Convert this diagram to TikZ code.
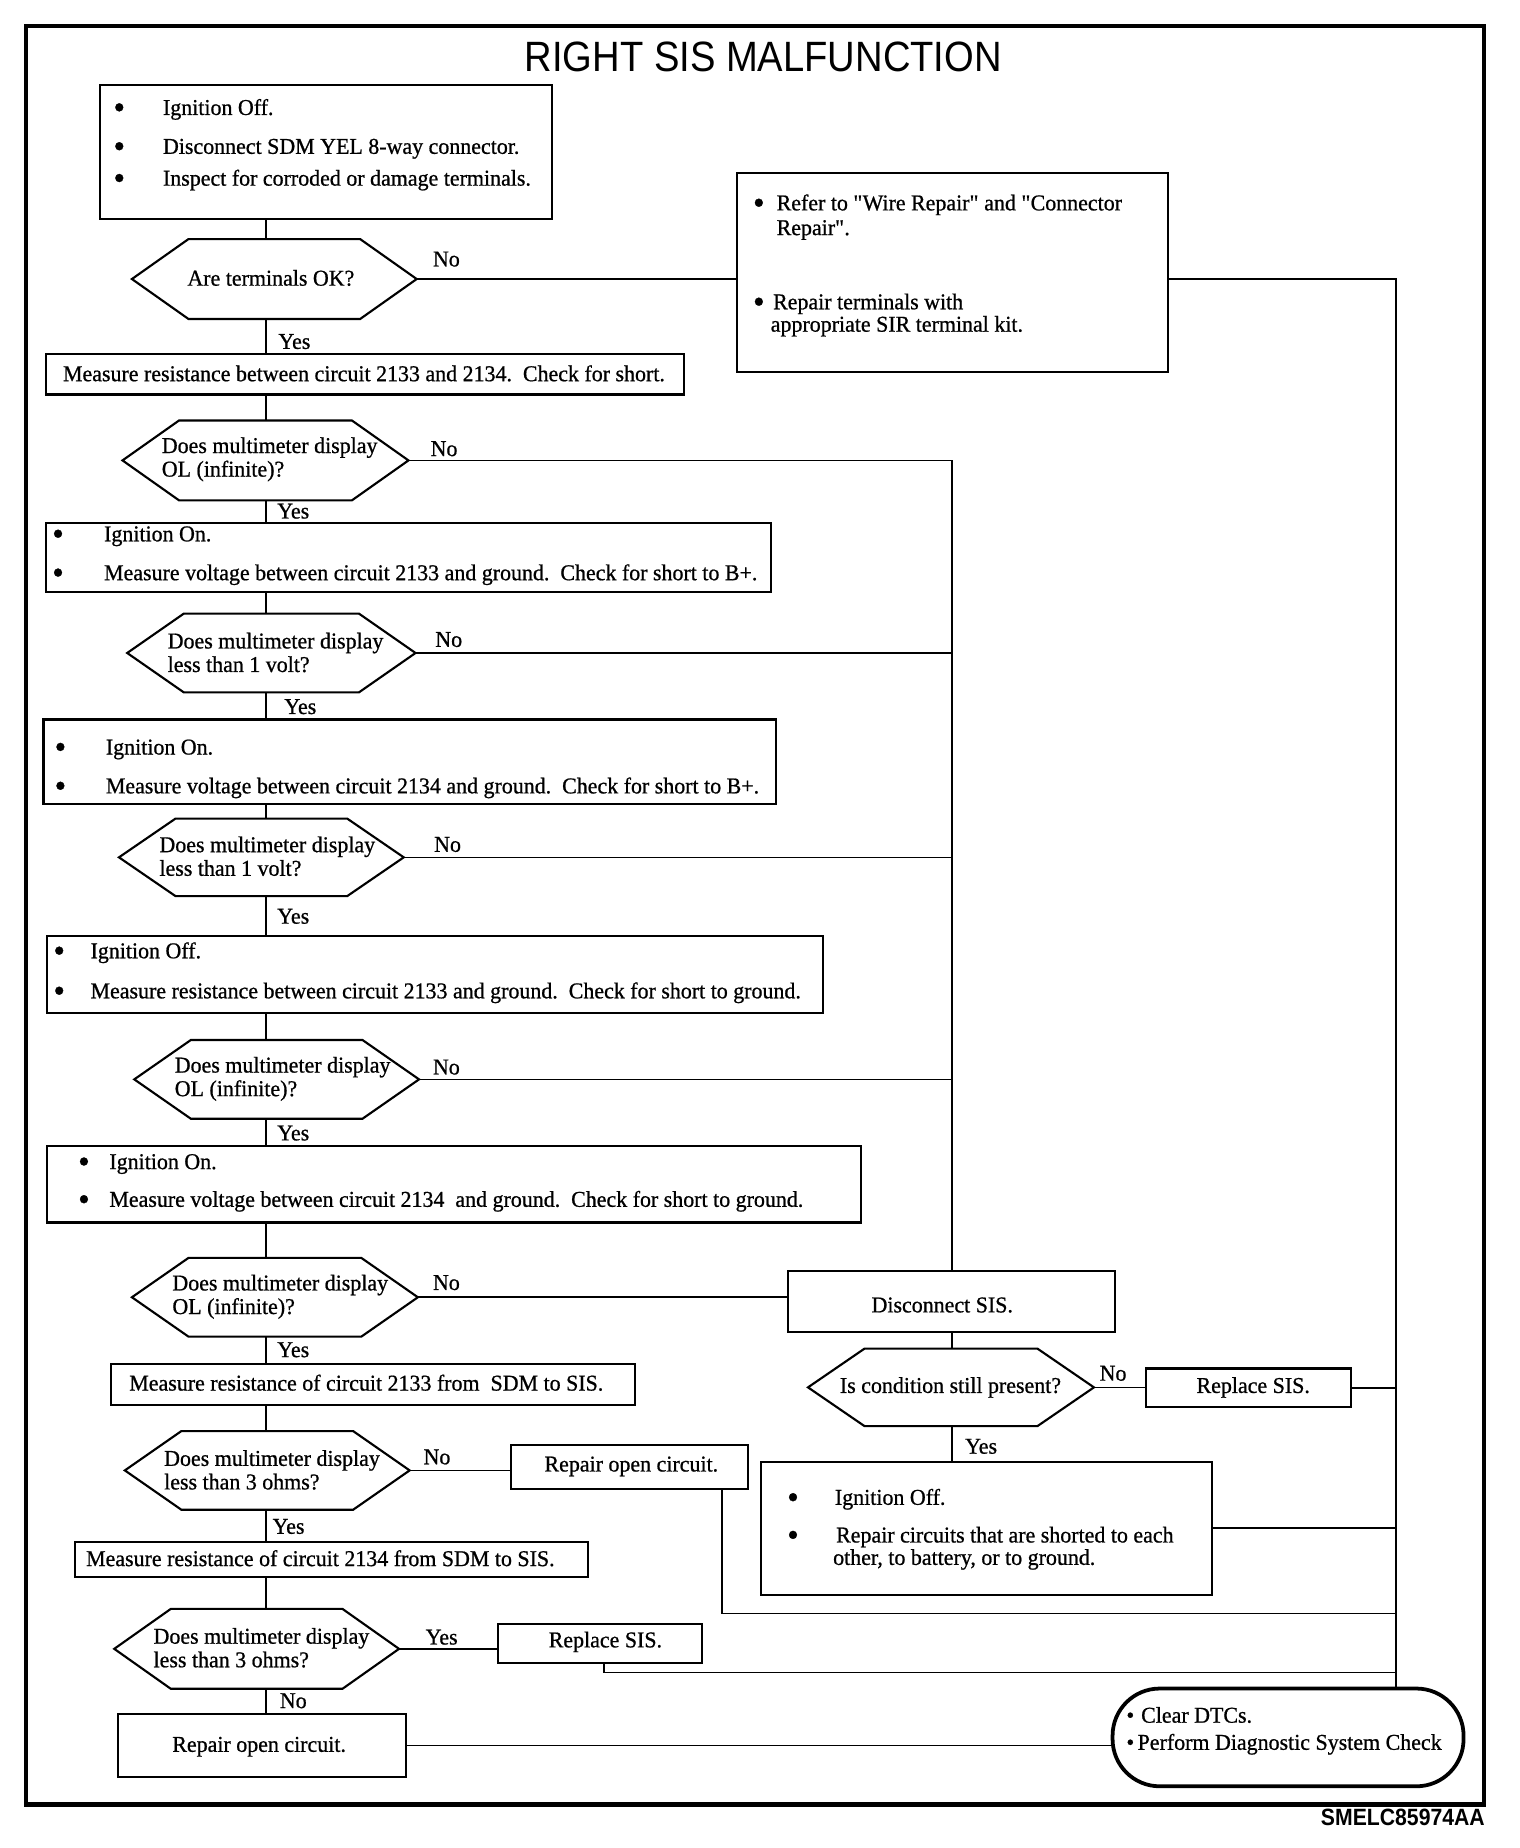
\documentclass[tikz,border=0pt]{standalone}
\usepackage{fontspec}
\setmainfont{Liberation Serif}[FakeStretch=0.97,FakeBold=0.8]
\newfontfamily\titlefont{Liberation Sans}[FakeStretch=0.9]
\usetikzlibrary{calc}
\newcommand\mkbox[6][]{%
  \pgfmathsetmacro\mybw{(#5-#3)*0.5}\pgfmathsetmacro\mybh{(#6-#4)*0.5}%
  \node[boxst,#1,minimum width=\mybw pt,minimum height=\mybh pt,anchor=north west] (#2) at (#3,#4) {};}
\newcommand\mkhex[5]{%
  \pgfmathsetmacro\mybw{(#4-#2)*0.5}\pgfmathsetmacro\mybh{(#5-#3)*0.5}%
  \node[inner sep=0pt,minimum width=\mybw pt,minimum height=\mybh pt,anchor=north west] (#1) at (#2,#3) {};
  \draw[hexst] (#1.west) -- ([xshift=24pt]#1.north west) -- ([xshift=-24pt]#1.north east) -- (#1.east)
     -- ([xshift=-24pt]#1.south east) -- ([xshift=24pt]#1.south west) -- cycle;}
\newcommand\bigbul{\raisebox{-0.35ex}{\scalebox{1.5}{\textbullet}}}
\newcommand\bgap[1]{\makebox[#1][l]{\bigbul}}
\newcommand\qd{\textquotedbl}
\begin{document}
\begin{tikzpicture}[x=0.5pt,y=-0.5pt,
  boxst/.style={draw,line width=0.9pt,inner sep=0pt},
  hexst/.style={draw,line width=0.9pt,line join=miter},
  conn/.style={line width=0.7pt},
  txt/.style={inner sep=0pt,font=\fontsize{9.6}{10}\selectfont},
  tl/.style={txt,anchor=mid west},
  ht/.style={txt,anchor=west,align=left},
  lbl/.style={txt}]
\useasboundingbox (0,0) rectangle (1290,1569);
\draw[line width=2pt] (22,22) rectangle (1260,1532);
\node[inner sep=0pt,font=\titlefont\fontsize{18}{20}\selectfont] (title) at (648,48) {RIGHT SIS MALFUNCTION};
\coordinate (spine) at (226,0);
\coordinate (busM) at (808,0);
\coordinate (busR) at (1185,0);
\coordinate (c1) at (613,1370);
\coordinate (c2) at (513,1420);
% box 1
\mkbox{b1}{84}{71}{468}{185}
\node[tl] (b1a) at (96,93) {\bgap{21pt}Ignition Off.};
\node[tl] (b1b) at (96,126) {\bgap{21pt}Disconnect SDM YEL 8-way connector.};
\node[tl] (b1c) at (96,153) {\bgap{21pt}Inspect for corroded or damage terminals.};
% hex 1
\mkhex{h1}{112}{203}{353}{270}
\node[txt] (h1t) at (230,236) {Are terminals OK?};
\node[lbl] (n1) at (379,220) {No};
\mkbox{r1}{625}{146}{991}{315}
\node[tl] (r1a) at (639,174) {\bgap{10pt}Refer to \qd Wire Repair\qd\ and \qd Connector};
\node[tl] (r1b) at (659,195) {Repair\qd.};
\node[tl] (r1c) at (639,258) {\bgap{8.5pt}Repair terminals with};
\node[tl] (r1d) at (654,277) {appropriate SIR terminal kit.};
\node[lbl] (y1) at (250,290) {Yes};
% box 2
\mkbox{b2}{38}{300}{580}{334}
\node[txt] (b2t) at (309,317) {Measure resistance between circuit 2133 and 2134.\ \ Check for short.};
% hex 2
\mkhex{h2}{104}{357}{346}{424}
\node[ht] (h2t) at (137,390) {Does multimeter display\\OL (infinite)?};
\node[lbl] (n2) at (377,381) {No};
\node[lbl] (y2) at (249,434) {Yes};
% box 3
\mkbox{b3}{38}{443}{654}{502}
\node[tl] (b3a) at (44,455) {\bgap{22pt}Ignition On.};
\node[tl] (b3b) at (44,488) {\bgap{22pt}Measure voltage between circuit 2133 and ground.\ \ Check for short to B+.};
% hex 3
\mkhex{h3}{108}{521}{352}{587}
\node[ht] (h3t) at (142,554) {Does multimeter display\\less than 1 volt?};
\node[lbl] (n3) at (381,543) {No};
\node[lbl] (y3) at (255,600) {Yes};
% box 4
\mkbox{b4}{36}{610}{658}{682}
\node[tl] (b4a) at (46,636) {\bgap{21.75pt}Ignition On.};
\node[tl] (b4b) at (46,669) {\bgap{21.75pt}Measure voltage between circuit 2134 and ground.\ \ Check for short to B+.};
% hex 4
\mkhex{h4}{101}{695}{342}{760}
\node[ht] (h4t) at (135,727) {Does multimeter display\\less than 1 volt?};
\node[lbl] (n4) at (380,717) {No};
\node[lbl] (y4) at (249,778) {Yes};
% box 5
\mkbox{b5}{39}{794}{698}{859}
\node[tl] (b5a) at (45,809) {\bgap{15.75pt}Ignition Off.};
\node[tl] (b5b) at (45,843) {\bgap{15.75pt}Measure resistance between circuit 2133 and ground.\ \ Check for short to ground.};
% hex 5
\mkhex{h5}{114}{883}{355}{949}
\node[ht] (h5t) at (148,916) {Does multimeter display\\OL (infinite)?};
\node[lbl] (n5) at (379,906) {No};
\node[lbl] (y5) at (249,962) {Yes};
% box 6
\mkbox{b6}{39}{972}{730}{1037}
\node[tl] (b6a) at (66,988) {\bgap{13.25pt}Ignition On.};
\node[tl] (b6b) at (66,1020) {\bgap{13.25pt}Measure voltage between circuit 2134\ \ and ground.\ \ Check for short to ground.};
% hex 6
\mkhex{h6}{112}{1068}{354}{1134}
\node[ht] (h6t) at (146,1101) {Does multimeter display\\OL (infinite)?};
\node[lbl] (n6) at (379,1089) {No};
\node[lbl] (y6) at (249,1146) {Yes};
% right column
\mkbox{dis}{668}{1078}{946}{1130}
\node[txt] (dist) at (800,1108) {Disconnect SIS.};
\mkhex{h7}{686}{1145}{928}{1210}
\node[txt] (h7t) at (807,1178) {Is condition still present?};
\node[lbl] (n7) at (945,1166) {No};
\mkbox{rs1}{972}{1161}{1146}{1194}
\node[txt] (rs1t) at (1064,1178) {Replace SIS.};
\node[lbl] (y7) at (833,1228) {Yes};
\mkbox{ic}{645}{1240}{1028}{1353}
\node[tl] (ica) at (668,1273) {\bgap{20.25pt}Ignition Off.};
\node[tl] (icb) at (668,1305) {\bgap{20.75pt}Repair circuits that are shorted to each};
\node[tl] (icc) at (707,1324) {other, to battery, or to ground.};
% box 7
\mkbox{b7}{93}{1157}{538}{1192}
\node[txt] (b7t) at (311,1174) {Measure resistance of circuit 2133 from\ \ SDM to SIS.};
% hex 8
\mkhex{h8}{106}{1215}{347}{1281}
\node[ht] (h8t) at (139,1248) {Does multimeter display\\less than 3 ohms?};
\node[lbl] (n8) at (371,1237) {No};
\mkbox{ro1}{433}{1226}{634}{1263}
\node[txt] (ro1t) at (536,1245) {Repair open circuit.};
\node[lbl] (y8) at (245,1296) {Yes};
% box 8
\mkbox{b8}{63}{1308}{498}{1338}
\node[txt] (b8t) at (272,1323) {Measure resistance of circuit 2134 from SDM to SIS.};
% hex 9
\mkhex{h9}{97}{1366}{338}{1433}
\node[ht] (h9t) at (130,1399) {Does multimeter display\\less than 3 ohms?};
\node[lbl] (y9) at (375,1390) {Yes};
\mkbox{rs2}{422}{1378}{595}{1411}
\node[txt] (rs2t) at (514,1394) {Replace SIS.};
\node[lbl] (n9) at (249,1444) {No};
\mkbox{b9}{99}{1454}{344}{1508}
\node[txt] (b9t) at (220,1483) {Repair open circuit.};
% final oval
\mkbox[rounded corners=20pt,line width=1.6pt]{oval}{943}{1432}{1241}{1515}
\node[tl] (ova) at (956,1458) {\makebox[6.25pt][l]{\textbullet}Clear DTCs.};
\node[tl] (ovb) at (956,1481) {\makebox[4.75pt][l]{\textbullet}Perform Diagnostic System Check};
\node[inner sep=0pt,anchor=mid east,font=\titlefont\bfseries\fontsize{10}{12}\selectfont] (code) at (1261,1545) {SMELC85974AA};
% connectors
\draw[conn] (b1.south -| spine) -- (h1.north -| spine);
\draw[conn] (h1.east) -- (h1.east -| r1.west);
\draw[conn] (h1.east -| r1.east) -- (h1.east -| busR) -- (oval.north -| busR);
\draw[conn] (h1.south -| spine) -- (b2.north -| spine);
\draw[conn] (b2.south -| spine) -- (h2.north -| spine);
\draw[conn] (h2.east) -- (h2.east -| busM) -- (dis.north -| busM);
\draw[conn] (h2.south -| spine) -- (b3.north -| spine);
\draw[conn] (b3.south -| spine) -- (h3.north -| spine);
\draw[conn] (h3.east) -- (h3.east -| busM);
\draw[conn] (h3.south -| spine) -- (b4.north -| spine);
\draw[conn] (b4.south -| spine) -- (h4.north -| spine);
\draw[conn] (h4.east) -- (h4.east -| busM);
\draw[conn] (h4.south -| spine) -- (b5.north -| spine);
\draw[conn] (b5.south -| spine) -- (h5.north -| spine);
\draw[conn] (h5.east) -- (h5.east -| busM);
\draw[conn] (h5.south -| spine) -- (b6.north -| spine);
\draw[conn] (b6.south -| spine) -- (h6.north -| spine);
\draw[conn] (h6.east) -- (h6.east -| dis.west);
\draw[conn] (dis.south -| busM) -- (h7.north -| busM);
\draw[conn] (h7.east) -- (h7.east -| rs1.west);
\draw[conn] (rs1.east) -- (rs1.east -| busR);
\draw[conn] (h7.south -| busM) -- (ic.north -| busM);
\draw[conn] (ic.east) -- (ic.east -| busR);
\draw[conn] (h6.south -| spine) -- (b7.north -| spine);
\draw[conn] (b7.south -| spine) -- (h8.north -| spine);
\draw[conn] (h8.east) -- (h8.east -| ro1.west);
\draw[conn] (ro1.south -| c1) -- (c1) -- (c1 -| busR);
\draw[conn] (h8.south -| spine) -- (b8.north -| spine);
\draw[conn] (b8.south -| spine) -- (h9.north -| spine);
\draw[conn] (h9.east) -- (h9.east -| rs2.west);
\draw[conn] (rs2.south -| c2) -- (c2) -- (c2 -| busR);
\draw[conn] (h9.south -| spine) -- (b9.north -| spine);
\draw[conn] (b9.east) -- (b9.east -| oval.west);
\end{tikzpicture}
\end{document}
